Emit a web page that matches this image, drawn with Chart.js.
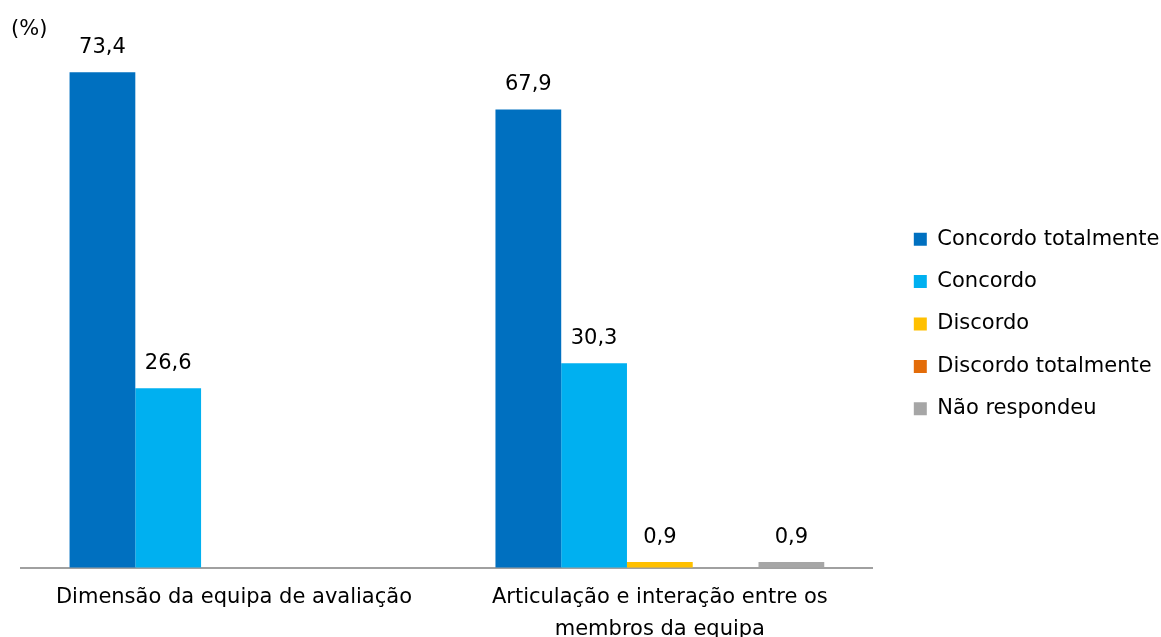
<!DOCTYPE html>
<html>
<head>
<meta charset="utf-8">
<script src="https://cdn.jsdelivr.net/npm/chart.js@4.4.0/dist/chart.umd.min.js"></script>
<style>
  html, body { margin: 0; padding: 0; background: #fff; }
  #wrap { width: 1161px; height: 637px; position: relative; }
</style>
</head>
<body>
<div id="wrap"><canvas id="c" width="1161" height="637"></canvas></div>
<script>
const categories = [
  'Dimensão da equipa de avaliação',
  ['Articulação e interação entre os', 'membros da equipa']
];
const seriesNames = ['Concordo totalmente', 'Concordo', 'Discordo', 'Discordo totalmente', 'Não respondeu'];
const concordoTotalmente = [73.4, 67.9];
const concordo = [26.6, 30.3];
const discordo = [null, 0.9];
const discordoTotalmente = [null, null];
const naoRespondeu = [null, 0.9];
const seriesColors = ['#0070C0', '#00B0F0', '#FFC000', '#E36C09', '#A6A6A6'];
const unitLabel = '(%)';

const FONT = 'DejaVu Sans';
const allSeries = [concordoTotalmente, concordo, discordo, discordoTotalmente, naoRespondeu];

const valueLabels = {
  id: 'valueLabels',
  afterDatasetsDraw(chart) {
    const ctx = chart.ctx;
    ctx.save();
    ctx.font = '21px "' + FONT + '"';
    ctx.fillStyle = '#000';
    ctx.textAlign = 'center';
    ctx.textBaseline = 'alphabetic';
    chart.data.datasets.forEach((ds, i) => {
      const meta = chart.getDatasetMeta(i);
      meta.data.forEach((el, j) => {
        const v = ds.data[j];
        if (v === null || v === undefined) return;
        ctx.fillText(v.toFixed(1).replace('.', ','), el.x, el.y - 19);
      });
    });
    ctx.fillStyle = '#000';
    ctx.textAlign = 'left';
    ctx.font = '21px "' + FONT + '"';
    ctx.fillText(unitLabel, 11, 35);
    ctx.restore();
  }
};

new Chart(document.getElementById('c'), {
  type: 'bar',
  data: {
    labels: categories,
    datasets: seriesNames.map((n, i) => ({
      label: n,
      data: allSeries[i],
      backgroundColor: seriesColors[i],
      borderWidth: 0,
      categoryPercentage: 0.772,
      barPercentage: 1
    }))
  },
  options: {
    responsive: false,
    animation: false,
    devicePixelRatio: 1,
    layout: { padding: { left: 21, right: -8.5, top: -12, bottom: -23 } },
    plugins: {
      legend: {
        position: 'right',
        align: 'center',
        labels: {
          boxWidth: 13,
          boxHeight: 13,
          padding: 21.4,
          color: '#000',
          font: { family: FONT, size: 21 }
        }
      },
      tooltip: { enabled: false }
    },
    scales: {
      x: {
        grid: { display: false, drawTicks: false },
        border: { display: true, color: '#a0a0a0', width: 2 },
        ticks: {
          color: '#000',
          padding: 14,
          maxRotation: 0,
          autoSkip: false,
          font: { family: FONT, size: 21, lineHeight: '32px' }
        }
      },
      y: {
        position: 'right',
        min: 0,
        max: 84.1,
        grid: { display: true, drawOnChartArea: false, drawTicks: true, tickLength: 19.6, color: 'rgba(0,0,0,0)' },
        border: { display: false },
        ticks: { display: false }
      }
    }
  },
  plugins: [valueLabels]
});
</script>
</body>
</html>
